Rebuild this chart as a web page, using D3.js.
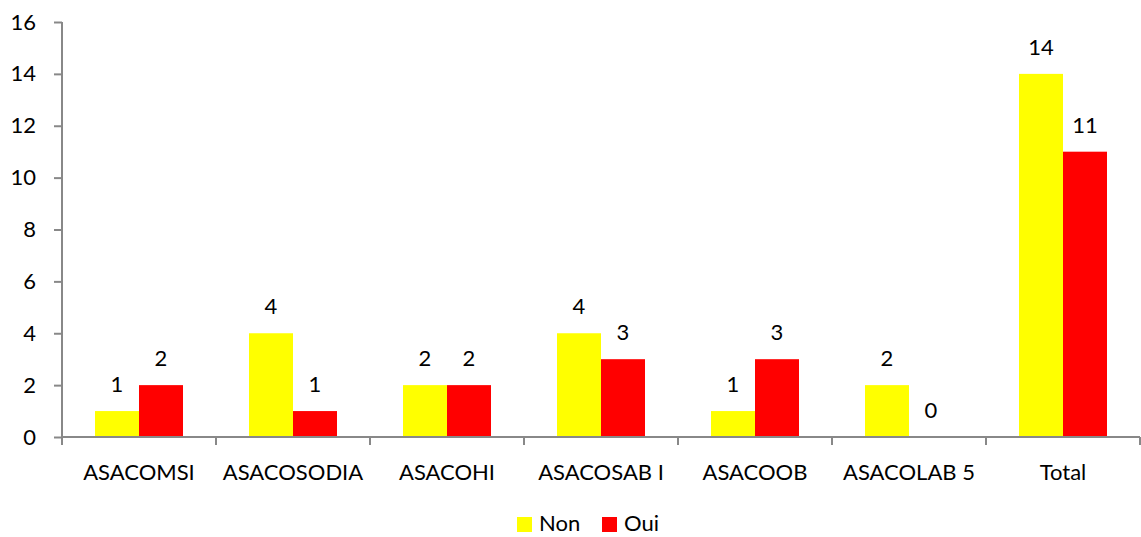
<!DOCTYPE html>
<html>
<head>
<meta charset="utf-8">
<script src="https://cdn.jsdelivr.net/npm/d3@7"></script>
<style>
  html, body { margin: 0; padding: 0; background: #fff; }
  svg { display: block; }
  text { font-family: Lato, "Open Sans", sans-serif; fill: #000; }
</style>
</head>
<body>
<svg id="chart" width="1141" height="537"></svg>
<script>
const categories = ["ASACOMSI", "ASACOSODIA", "ASACOHI", "ASACOSAB I", "ASACOOB", "ASACOLAB 5", "Total"];
const seriesNames = ["Non", "Oui"];
const nonValues = [1, 4, 2, 4, 1, 2, 14];
const ouiValues = [2, 1, 2, 3, 3, 0, 11];
const yTicks = [0, 2, 4, 6, 8, 10, 12, 14, 16];
const colors = ["#ffff00", "#ff0000"];

const rows = categories.map((c, i) => ({ cat: c, values: [nonValues[i], ouiValues[i]] }));

const svg = d3.select("#chart");
const plotLeft = 62, plotRight = 1140, plotTop = 22, plotBottom = 437;
const fontSize = "22px";
const axisColor = "#888888";

const x = d3.scaleBand().domain(categories).range([plotLeft, plotRight]);
const y = d3.scaleLinear().domain([0, 16]).range([plotBottom, plotTop]);

// two bars of 44px centred in each category
const barW = 44;
const inner = d3.scaleBand().domain(seriesNames)
  .range([x.bandwidth() / 2 - barW, x.bandwidth() / 2 + barW]);

// bars
const groups = svg.append("g").selectAll("g").data(rows).join("g")
  .attr("transform", d => `translate(${x(d.cat)},0)`);

groups.selectAll("rect").data(d => d.values.map((v, j) => ({ v, j })))
  .join("rect")
  .attr("x", d => inner(seriesNames[d.j]))
  .attr("y", d => y(d.v))
  .attr("width", inner.bandwidth())
  .attr("height", d => plotBottom - y(d.v))
  .attr("fill", d => colors[d.j]);

// value labels
groups.selectAll("text.val").data(d => d.values.map((v, j) => ({ v, j })))
  .join("text")
  .attr("class", "val")
  .attr("x", d => inner(seriesNames[d.j]) + inner.bandwidth() / 2)
  .attr("y", d => y(d.v) - 19)
  .attr("text-anchor", "middle")
  .style("font-size", fontSize)
  .text(d => d.v);

// y axis
const yAxis = d3.axisLeft(y).tickValues(yTicks).tickSize(8).tickPadding(18);
const gy = svg.append("g").attr("transform", `translate(${plotLeft},0)`).call(yAxis);
gy.select(".domain").remove();
gy.selectAll(".tick line").attr("stroke", axisColor).attr("stroke-width", 2);
gy.selectAll(".tick text").style("font-size", fontSize).attr("font-family", "Lato, sans-serif").attr("fill", "#000");
svg.append("line")
  .attr("x1", plotLeft).attr("x2", plotLeft)
  .attr("y1", plotTop).attr("y2", plotBottom + 8)
  .attr("stroke", axisColor).attr("stroke-width", 2);

// x axis
svg.append("line")
  .attr("x1", plotLeft).attr("x2", plotRight)
  .attr("y1", plotBottom).attr("y2", plotBottom)
  .attr("stroke", axisColor).attr("stroke-width", 2);
const boundaries = categories.map(c => x(c)).concat([plotRight]);
svg.append("g").selectAll("line").data(boundaries).join("line")
  .attr("x1", d => d).attr("x2", d => d)
  .attr("y1", plotBottom).attr("y2", plotBottom + 8)
  .attr("stroke", axisColor).attr("stroke-width", 2);
svg.append("g").selectAll("text").data(categories).join("text")
  .attr("x", d => x(d) + x.bandwidth() / 2)
  .attr("y", 480)
  .attr("text-anchor", "middle")
  .style("font-size", fontSize)
  .text(d => d);

// legend
const legend = svg.append("g");
const legendX = [517, 602];
seriesNames.forEach((name, i) => {
  legend.append("rect").attr("x", legendX[i]).attr("y", 517).attr("width", 15).attr("height", 15).attr("fill", colors[i]);
  legend.append("text").attr("x", legendX[i] + 22).attr("y", 531).style("font-size", fontSize).text(name);
});
</script>
</body>
</html>
